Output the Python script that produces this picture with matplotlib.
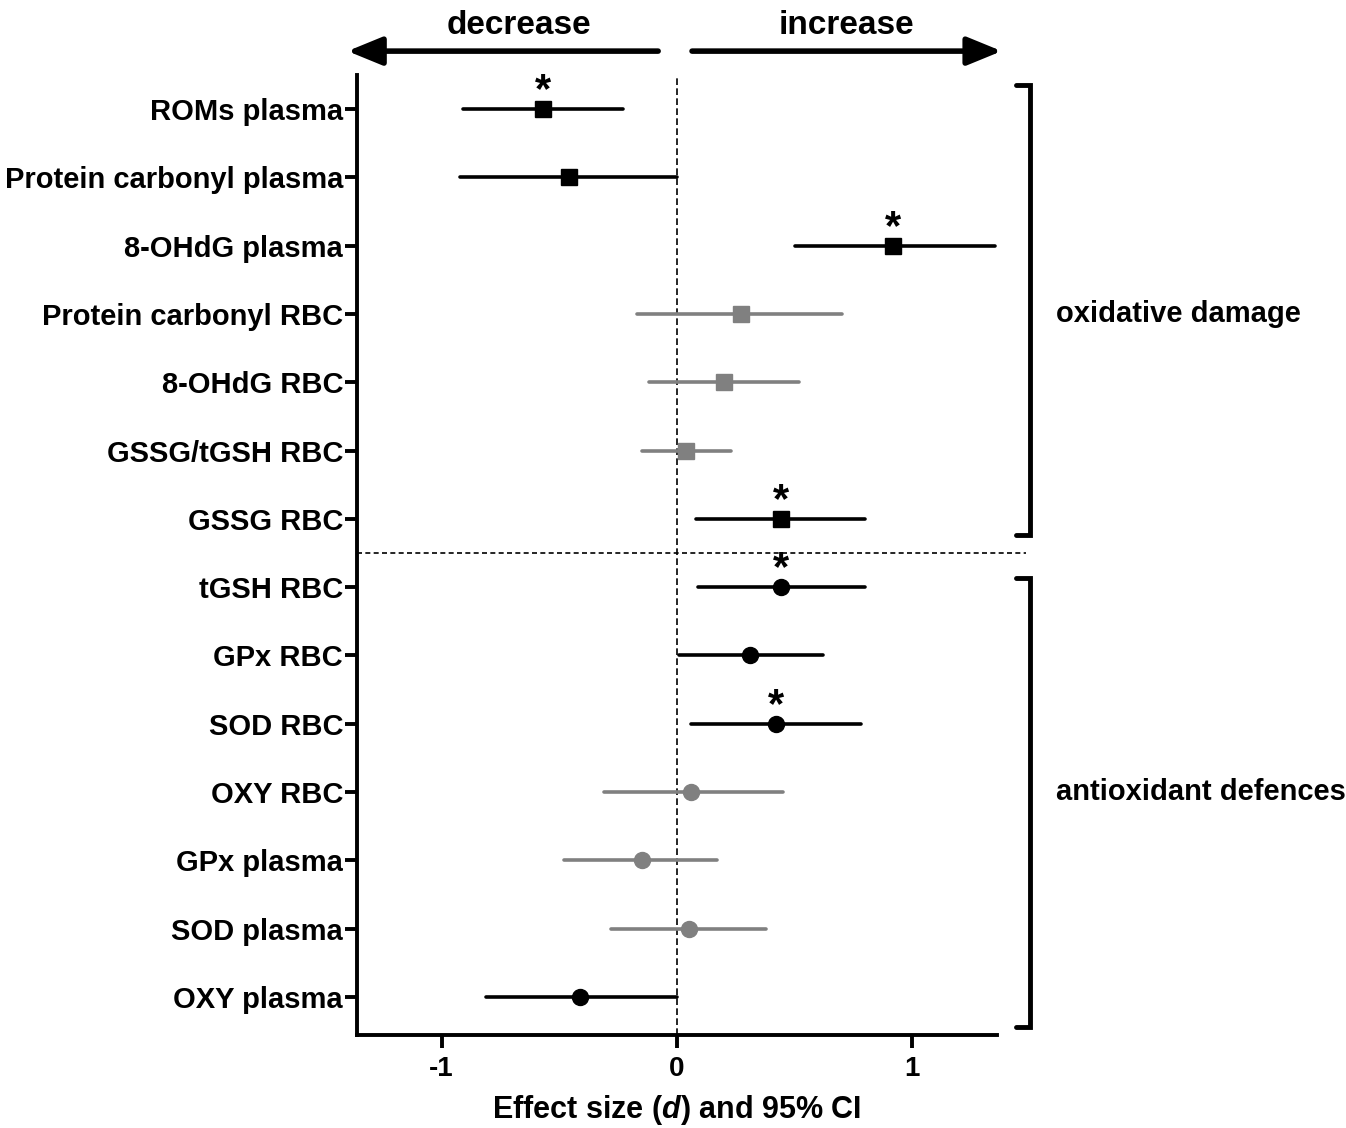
import numpy as np
import matplotlib
matplotlib.use("Agg")
import matplotlib.pyplot as plt

plt.rcParams['font.family'] = ['Liberation Sans', 'DejaVu Sans']
plt.rcParams['font.weight'] = 'bold'
plt.rcParams['mathtext.fontset'] = 'custom'
plt.rcParams['mathtext.it'] = 'Liberation Sans:italic:bold'
plt.rcParams['mathtext.rm'] = 'Liberation Sans:bold'

# data (top to bottom)
labels = ["ROMs plasma", "Protein carbonyl plasma", "8-OHdG plasma",
          "Protein carbonyl RBC", "8-OHdG RBC", "GSSG/tGSH RBC", "GSSG RBC",
          "tGSH RBC", "GPx RBC", "SOD RBC", "OXY RBC",
          "GPx plasma", "SOD plasma", "OXY plasma"]
effect = [-0.57, -0.46, 0.92, 0.27, 0.20, 0.04, 0.44,
          0.44, 0.31, 0.42, 0.06, -0.15, 0.05, -0.41]
ci_low = [-0.91, -0.92, 0.50, -0.17, -0.12, -0.15, 0.08,
          0.09, 0.01, 0.06, -0.31, -0.48, -0.28, -0.81]
ci_high = [-0.23, 0.00, 1.35, 0.70, 0.52, 0.23, 0.80,
           0.80, 0.62, 0.78, 0.45, 0.17, 0.38, 0.00]
significant = [1, 0, 1, 0, 0, 0, 1, 1, 0, 1, 0, 0, 0, 0]
grey = [0, 0, 0, 1, 1, 1, 0, 0, 0, 0, 1, 1, 1, 0]
group = ["damage"] * 7 + ["defence"] * 7

n = len(labels)
ypos = np.arange(n, 0, -1)

fig = plt.figure(figsize=(13.46, 11.28), dpi=100)
ax = fig.add_axes([0.2652, 0.0824, 0.4755, 0.8511])

for i in range(n):
    col = '#808080' if grey[i] else 'black'
    mk = 's' if group[i] == "damage" else 'o'
    ax.plot([ci_low[i], ci_high[i]], [ypos[i], ypos[i]], color=col, lw=2.6,
            solid_capstyle='round', zorder=3)
    ax.plot(effect[i], ypos[i], marker=mk, color=col, ms=11.5, zorder=4)
    if significant[i]:
        ax.text(effect[i], ypos[i] + 0.1, '*', fontsize=30, ha='center',
                va='baseline', zorder=5)

ax.axvline(0, color='black', lw=1.2, ls=(0, (4, 2)), zorder=1)
ax.plot([-1.36, 1.485], [7.5, 7.5], color='black', lw=1.2, ls=(0, (3, 2)),
        clip_on=False, zorder=1)

ax.set_xlim(-1.36, 1.36)
ax.set_ylim(0.44, 14.5)
ax.set_xticks([-1, 0, 1])
ax.set_xticklabels(['-1', '0', '1'], fontsize=20)
ax.set_yticks(ypos)
ax.set_yticklabels(labels, fontsize=21)
for s in ['top', 'right']:
    ax.spines[s].set_visible(False)
for s in ['left', 'bottom']:
    ax.spines[s].set_linewidth(2.8)
ax.tick_params(axis='both', width=2.8, length=9, direction='out')
ax.tick_params(axis='y', pad=1)
ax.tick_params(axis='x', pad=6)
ax.set_xlabel(r'Effect size ($d$) and 95% CI', fontsize=22,
              fontweight='bold', labelpad=8)

# brackets on the right
for top, bot, ylab, name in [(14.35, 7.76, 11, 'oxidative damage'),
                             (7.13, 0.56, 4, 'antioxidant defences')]:
    ax.plot([1.44, 1.5, 1.5, 1.44], [top, top, bot, bot], color='black',
            lw=3.5, clip_on=False, solid_capstyle='round',
            solid_joinstyle='miter')
    ax.text(1.61, ylab, name, fontsize=21, ha='left', va='center')

# direction arrows
astyle = '-|>,head_length=1.05,head_width=0.43'
ax.annotate('', xy=(-1.40, 14.85), xytext=(-0.08, 14.85),
            arrowprops=dict(arrowstyle=astyle, lw=4, color='black',
                            mutation_scale=20, shrinkA=0, shrinkB=0,
                            capstyle='round'),
            annotation_clip=False)
ax.annotate('', xy=(1.38, 14.85), xytext=(0.064, 14.85),
            arrowprops=dict(arrowstyle=astyle, lw=4, color='black',
                            mutation_scale=20, shrinkA=0, shrinkB=0,
                            capstyle='round'),
            annotation_clip=False)
ax.text(-0.67, 15.23, 'decrease', fontsize=24, ha='center', va='center')
ax.text(0.72, 15.23, 'increase', fontsize=24, ha='center', va='center')

fig.savefig('out.png', dpi=100)
